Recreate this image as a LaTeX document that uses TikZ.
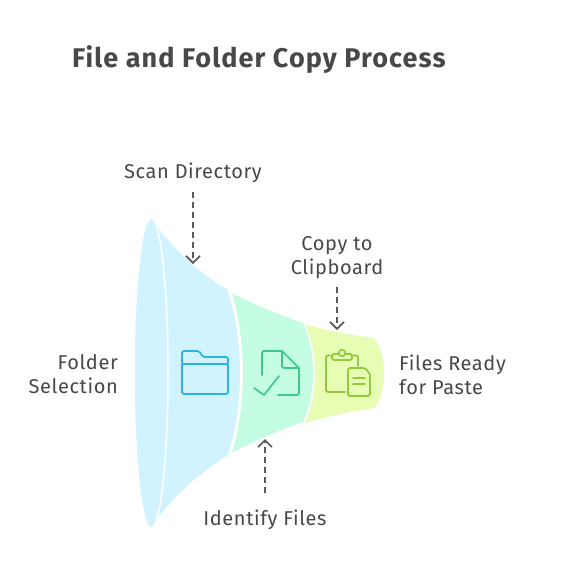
\documentclass[tikz,border=0pt]{standalone}
\usepackage{fontspec}
\setmainfont[LetterSpace=3]{Fira Sans}
\newfontfamily\titlefont[LetterSpace=4.1]{Fira Sans}
\usetikzlibrary{arrows.meta}
\definecolor{inkc}{HTML}{484848}
\definecolor{arrowc}{HTML}{595959}
\definecolor{blueF}{HTML}{D1F3FF}
\definecolor{greenF}{HTML}{C5FDE2}
\definecolor{limeF}{HTML}{E6FDB3}
\definecolor{blueI}{HTML}{2BB3E6}
\definecolor{greenI}{HTML}{3EC98A}
\definecolor{limeI}{HTML}{94C93D}
\tikzset{
  lbl/.style={text=inkc,font=\fontsize{20}{24}\selectfont,inner sep=0pt,align=center},
  ttl/.style={text=inkc,font=\titlefont\fontsize{27}{30}\selectfont\bfseries,inner sep=0pt},
  conn/.style={draw=arrowc,line width=1.6pt,dash pattern=on 6pt off 4pt,-{Straight Barb[length=7pt,width=14pt,line width=1.6pt]}},
  icon/.style={line width=1.7pt,line cap=round,line join=round,rounded corners=1.6pt,fill=none},
}
\begin{document}
\begin{tikzpicture}[x=1pt,y=-1pt]
\useasboundingbox (0,0) rectangle (566,579);
\fill[white] (0,0) rectangle (566,579);
% funnel
\fill[limeF] (305,324) .. controls (330,332) and (352,335) .. (374,338)
  .. controls (381,348) and (384,360) .. (384,373)
  .. controls (384,386) and (381,398) .. (375,408)
  .. controls (352,411) and (330,416) .. (305,423)
  .. controls (312,408) and (315,390) .. (315,373)
  .. controls (315,356) and (312,339) .. (305,324) -- cycle;
\fill[greenF] (232,293) .. controls (255,305) and (280,315) .. (303,323)
  .. controls (310,338) and (313,356) .. (313,373)
  .. controls (313,390) and (310,408) .. (303,422)
  .. controls (280,430) and (255,440) .. (232,453)
  .. controls (239,430) and (243,400) .. (243,373)
  .. controls (243,346) and (239,316) .. (232,293) -- cycle;
\fill[blueF] (155,224) .. controls (178,255) and (205,277) .. (227,289)
  .. controls (236,315) and (240,345) .. (240,373)
  .. controls (240,401) and (236,430) .. (228,455)
  .. controls (205,470) and (178,490) .. (155,522) -- cycle;
\draw[white,line width=1.5pt,fill=blueF] (151,373) ellipse [x radius=17,y radius=155];
% folder icon
\begin{scope}[icon,blueI]
\draw (182,364) -- (182,351) -- (199,351) -- (203,357) -- (228,357) -- (228,364);
\draw (182,394) -- (182,364) -- (228,364) -- (228,394) -- cycle;
\end{scope}
% file check icon
\begin{scope}[icon,greenI]
\draw (262,375) -- (262,351) -- (282,351);
\draw[rounded corners=0pt] (282,351) -- (299,368);
\draw (282,351) -- (282,368) -- (299,368);
\draw (299,368) -- (299,395) -- (278,395);
\draw[rounded corners=0pt] (254,388) -- (264,395) -- (279,376);
\end{scope}
% clipboard icon
\begin{scope}[icon,limeI]
\draw (332,355.5) -- (326,355.5) -- (326,392) -- (345,392);
\draw (352,355.5) -- (358,355.5) -- (358,366);
\draw (332,354) rectangle (352,360);
\draw[fill=limeF,rounded corners=0pt] (342,353) circle (3.3);
\draw (348,368) -- (365,368) -- (370,374) -- (370,396) -- (348,396) -- cycle;
\draw (353,378) -- (365,378);
\draw (353,384) -- (365,384);
\end{scope}
% text
\node[ttl,anchor=west] (title) at (72,60) {File and Folder Copy Process};
\node[lbl] (scan) at (193,172.5) {Scan Directory};
\node[lbl] (copy) at (337,257.5) {Copy to\\Clipboard};
\node[lbl,align=right,anchor=east] (folder) at (118,374.5) {Folder\\Selection};
\node[lbl,align=left,anchor=west] (ready) at (399,374.5) {Files Ready\\for Paste};
\node[lbl] (ident) at (265,520) {Identify Files};
% connectors
\coordinate (scanEnd) at (193,264);
\coordinate (copyEnd) at (337,330);
\coordinate (identEnd) at (265,439);
\draw[conn,shorten <=9.5pt] (scan.south) -- (scanEnd);
\draw[conn,shorten <=8.5pt] (copy.south) -- (copyEnd);
\draw[conn,shorten <=17pt] (ident.north) -- (identEnd);
\end{tikzpicture}
\end{document}
